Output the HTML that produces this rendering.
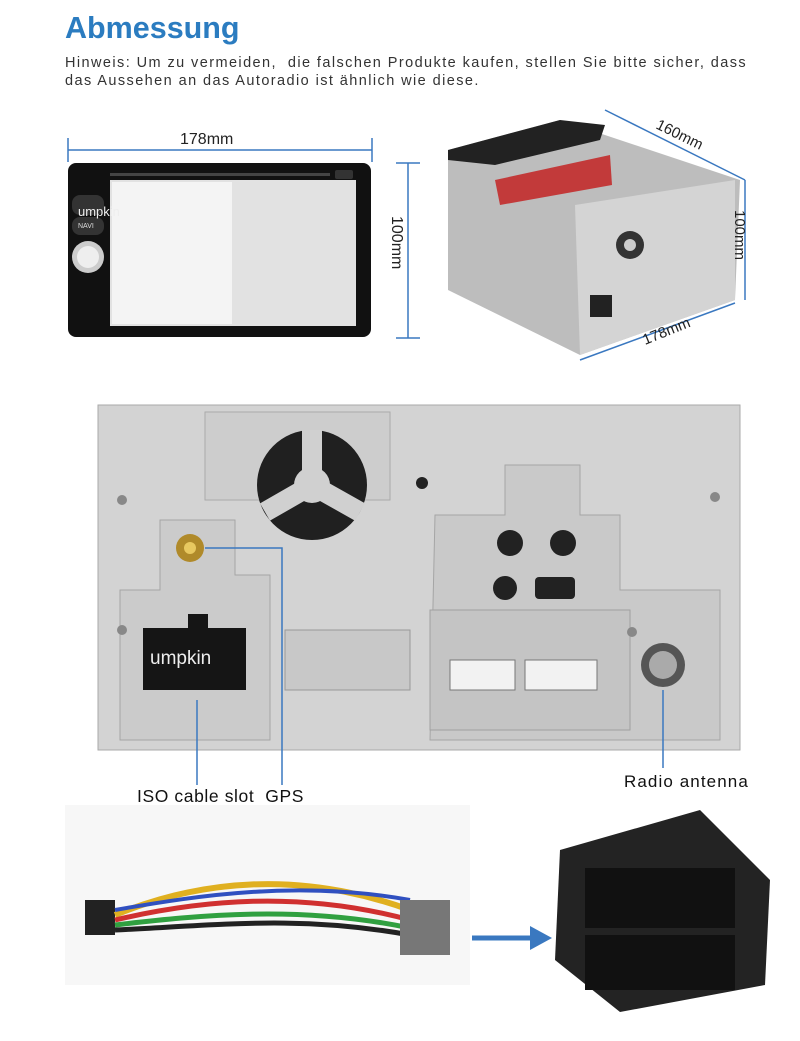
<!DOCTYPE html>
<html><head><meta charset="utf-8"><style>
body{margin:0;width:800px;height:1041px;background:#fff;position:relative;overflow:hidden;font-family:"Liberation Sans",sans-serif}
.a{position:absolute}
</style></head><body>
<div class="a" style="left:65px;top:11px;font-size:30.5px;font-weight:bold;color:#2b7cc0">Abmessung</div>
<div class="a" style="left:65px;top:54px;font-size:14.5px;color:#333;line-height:18px;letter-spacing:1.42px;white-space:nowrap">Hinweis: Um zu vermeiden,&nbsp; die falschen Produkte kaufen, stellen Sie bitte sicher, dass<br>das Aussehen an das Autoradio ist ähnlich wie diese.</div>

<svg class="a" style="left:0;top:0" width="800" height="1041">
<g stroke="#3a78c0" stroke-width="1.5">
<line x1="68" y1="150" x2="372" y2="150"/><line x1="68" y1="138" x2="68" y2="162"/><line x1="372" y1="138" x2="372" y2="162"/>
<line x1="408" y1="163" x2="408" y2="338"/><line x1="396" y1="163" x2="420" y2="163"/><line x1="396" y1="338" x2="420" y2="338"/>
</g>
<text x="180" y="144" font-size="16" fill="#222">178mm</text>
<text x="0" y="0" font-size="16" fill="#222" transform="translate(392,216) rotate(90)">100mm</text>
<rect x="68" y="163" width="303" height="174" rx="8" fill="#111"/>
<rect x="110" y="180" width="246" height="146" fill="#e2e2e2"/>
<rect x="112" y="182" width="120" height="142" fill="#f4f4f4"/>
<rect x="110" y="173" width="220" height="3" fill="#444"/>
<rect x="335" y="170" width="18" height="9" rx="2" fill="#333"/>
<rect x="72" y="195" width="32" height="20" rx="8" fill="#333"/>
<rect x="72" y="217" width="32" height="18" rx="8" fill="#333"/>
<circle cx="88" cy="257" r="16" fill="#ccc"/><circle cx="88" cy="257" r="11" fill="#eee"/>
<text x="78" y="228" font-size="7" fill="#ddd">NAVI</text>
<text x="78" y="216" font-size="13" fill="#eee">umpkin</text>
<polygon points="448,150 560,120 740,180 735,300 580,355 448,290" fill="#bdbdbd"/>
<polygon points="448,150 560,120 605,125 600,140 495,165 448,160" fill="#222"/>
<polygon points="575,205 735,180 735,300 580,355" fill="#d4d4d4"/>
<polygon points="495,180 610,155 612,185 500,205" fill="#c23a3a"/>
<circle cx="630" cy="245" r="14" fill="#333"/><circle cx="630" cy="245" r="6" fill="#ccc"/>
<rect x="590" y="295" width="22" height="22" fill="#222"/>
<g stroke="#3a78c0" stroke-width="1.5">
<line x1="605" y1="110" x2="745" y2="180"/><line x1="745" y1="180" x2="745" y2="300"/><line x1="580" y1="360" x2="735" y2="303"/>
</g>
<text x="0" y="0" font-size="15" fill="#222" transform="translate(655,128) rotate(26)">160mm</text>
<text x="0" y="0" font-size="15" fill="#222" transform="translate(735,210) rotate(90)">100mm</text>
<text x="0" y="0" font-size="15" fill="#222" transform="translate(645,345) rotate(-22)">178mm</text>
<rect x="98" y="405" width="642" height="345" fill="#d3d3d3"/>
<path d="M98 405H740V750H98Z" fill="none" stroke="#aaa"/>
<path d="M205 412H390V500H205Z" fill="#cdcdcd" stroke="#aaa"/>
<circle cx="312" cy="485" r="55" fill="#202020"/>
<path d="M312 485L312 430M312 485L265 512M312 485L360 512" stroke="#d0d0d0" stroke-width="20"/>
<circle cx="312" cy="485" r="18" fill="#d0d0d0"/>
<circle cx="422" cy="483" r="6" fill="#222"/>
<path d="M160 520H235V575H270V740H120V590H160Z" fill="#cbcbcb" stroke="#a5a5a5"/>
<circle cx="190" cy="548" r="14" fill="#b08a2a"/><circle cx="190" cy="548" r="6" fill="#e8c860"/>
<rect x="143" y="628" width="103" height="62" fill="#151515"/>
<rect x="188" y="614" width="20" height="15" fill="#151515"/>
<text x="150" y="664" font-size="19" fill="#eee">umpkin</text>
<rect x="285" y="630" width="125" height="60" fill="#c8c8c8" stroke="#999"/>
<path d="M435 515H505V465H580V515H620V590H720V740H430Z" fill="#c9c9c9" stroke="#a5a5a5"/>
<circle cx="510" cy="543" r="13" fill="#222"/><circle cx="563" cy="543" r="13" fill="#222"/>
<circle cx="505" cy="588" r="12" fill="#222"/><rect x="535" y="577" width="40" height="22" rx="4" fill="#222"/>
<rect x="430" y="610" width="200" height="120" fill="#c4c4c4" stroke="#a0a0a0"/>
<rect x="450" y="660" width="65" height="30" fill="#f2f2f2" stroke="#777"/>
<rect x="525" y="660" width="72" height="30" fill="#f2f2f2" stroke="#777"/>
<circle cx="663" cy="665" r="22" fill="#555"/><circle cx="663" cy="665" r="14" fill="#aaa"/>
<g fill="#888"><circle cx="122" cy="500" r="5"/><circle cx="122" cy="630" r="5"/><circle cx="632" cy="632" r="5"/><circle cx="715" cy="497" r="5"/></g>
<g stroke="#3a78c0" stroke-width="1.5" fill="none">
<polyline points="205,548 282,548 282,785"/>
<line x1="197" y1="700" x2="197" y2="785"/>
<line x1="663" y1="690" x2="663" y2="768"/>
</g>
<text x="137" y="802" font-size="17.5" fill="#111" letter-spacing="0.6">ISO cable slot&#160; GPS</text>
<text x="624" y="787" font-size="17" fill="#111" letter-spacing="1.1">Radio antenna</text>
<rect x="65" y="805" width="405" height="180" fill="#f7f7f7"/>
<rect x="85" y="900" width="30" height="35" fill="#222"/>
<path d="M115 915C200 880 300 870 410 910" stroke="#e0b020" stroke-width="6" fill="none"/>
<path d="M115 920C200 900 300 890 410 920" stroke="#d03030" stroke-width="5" fill="none"/>
<path d="M115 925C200 915 300 905 410 928" stroke="#30a040" stroke-width="5" fill="none"/>
<path d="M115 910C200 895 300 880 410 900" stroke="#3050c0" stroke-width="4" fill="none"/>
<path d="M115 930C220 925 300 915 410 935" stroke="#222" stroke-width="5" fill="none"/>
<rect x="400" y="900" width="50" height="55" fill="#777"/>
<line x1="472" y1="938" x2="535" y2="938" stroke="#3a78c0" stroke-width="5"/>
<polygon points="530,926 552,938 530,950" fill="#3a78c0"/>
<polygon points="560,850 700,810 770,880 765,985 620,1012 555,960" fill="#232323"/>
<rect x="585" y="868" width="150" height="60" fill="#111"/>
<rect x="585" y="935" width="150" height="55" fill="#111"/>
</svg>
</body></html>
